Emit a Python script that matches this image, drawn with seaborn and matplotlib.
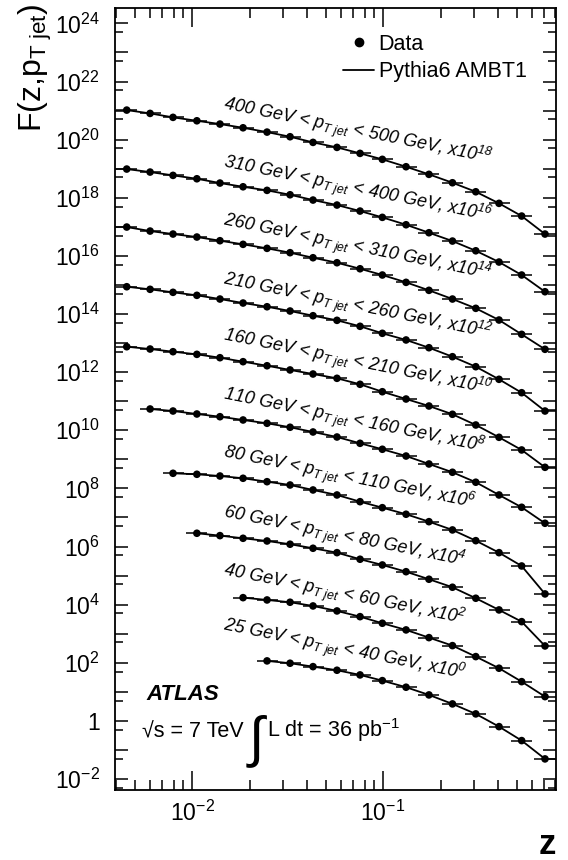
import numpy as np
import pandas as pd
import matplotlib
matplotlib.use("Agg")
import matplotlib.pyplot as plt
import seaborn as sns
from matplotlib.lines import Line2D
from matplotlib.ticker import FixedLocator, FuncFormatter, LogLocator, NullFormatter

# =========================
# data
# =========================
# z bin centres
z_bins = [0.00455, 0.00603, 0.00795, 0.0106, 0.0140, 0.0185, 0.0247, 0.0326,
          0.0430, 0.0574, 0.0758, 0.0992, 0.132, 0.174, 0.231, 0.306, 0.405,
          0.532, 0.705]

pt_lo = [400, 310, 260, 210, 160, 110, 80, 60, 40, 25]
pt_hi = [500, 400, 310, 260, 210, 160, 110, 80, 60, 40]
scale_exp = [18, 16, 14, 12, 10, 8, 6, 4, 2, 0]
first_bin = [0, 0, 0, 0, 0, 1, 2, 3, 5, 6]

F_400 = [1040, 800, 585, 446, 344, 256, 182, 126, 80.5, 54.2, 33.7, 21.0,
         11.7, 6.40, 3.29, 1.61, 0.643, 0.235, 0.0565]
F_310 = [973, 767, 590, 451, 321, 239, 180, 127, 83.5, 56.2, 34.9, 21.2,
         11.8, 6.27, 3.24, 1.50, 0.615, 0.220, 0.0585]
F_260 = [984, 716, 565, 446, 333, 250, 182, 129, 86.5, 58.2, 36.1, 22.0,
         12.3, 6.53, 3.28, 1.57, 0.622, 0.200, 0.0611]
F_210 = [869, 708, 558, 440, 328, 239, 178, 127, 87.5, 60.7, 37.8, 21.7,
         12.8, 6.93, 3.40, 1.54, 0.567, 0.196, 0.046]
F_160 = [750, 625, 505, 410, 314, 229, 166, 119, 86.3, 61.4, 38.2, 21.2,
         11.9, 6.84, 3.55, 1.52, 0.573, 0.210, 0.0532]
F_110 = [540, 460, 363, 293, 226, 174, 127, 87.3, 58.7, 35.6, 22.2, 13.0,
         6.92, 3.59, 1.63, 0.594, 0.224, 0.0631]
F_80 = [331, 306, 267, 223, 170, 131, 88.3, 59.4, 34.9, 21.7, 12.9, 7.16,
        3.72, 1.59, 0.615, 0.214, 0.0234]
F_60 = [286, 237, 192, 155, 120, 87.1, 61.5, 36.5, 23.2, 13.6, 7.48, 3.97,
        1.66, 0.658, 0.260, 0.0379]
F_40 = [174, 145, 121, 90.2, 60.7, 38.6, 22.9, 13.5, 7.33, 3.89, 1.63,
        0.649, 0.224, 0.0684]
F_25 = [116, 96.4, 73.6, 55.3, 38.2, 24.3, 14.4, 7.83, 3.84, 1.74, 0.635,
        0.210, 0.0492]

F_all = [F_400, F_310, F_260, F_210, F_160, F_110, F_80, F_60, F_40, F_25]

# long table for seaborn
rows = []
for i, F in enumerate(F_all):
    for j, val in enumerate(F):
        zz = z_bins[first_bin[i] + j]
        rows.append({"series": pt_lo[i], "z": zz, "F": val * 10.0 ** scale_exp[i]})
df = pd.DataFrame(rows)

# =========================
# style
# =========================
sns.set_style("ticks")
plt.rcParams["font.family"] = ["Liberation Sans", "DejaVu Sans"]
plt.rcParams["mathtext.fontset"] = "custom"
plt.rcParams["mathtext.rm"] = "Liberation Sans"
plt.rcParams["mathtext.it"] = "Liberation Sans:italic"
plt.rcParams["mathtext.bf"] = "Liberation Sans:bold"
plt.rcParams["mathtext.default"] = "regular"
for k in ["text.color", "axes.labelcolor", "xtick.color", "ytick.color",
          "axes.edgecolor"]:
    plt.rcParams[k] = "black"

fig = plt.figure(figsize=(5.68, 8.6), dpi=100)
ax = fig.add_axes([115 / 568, 70 / 860, 441 / 568, 782 / 860])

# =========================
# plot
# =========================
sns.lineplot(data=df, x="z", y="F", units="series", estimator=None,
             color="black", lw=1.3, ax=ax, legend=False, zorder=2)

bin_half = 10 ** 0.055
ax.errorbar(df["z"], df["F"],
            xerr=[df["z"] - df["z"] / bin_half, df["z"] * bin_half - df["z"]],
            fmt="none", ecolor="black", elinewidth=1.1, zorder=2)

sns.scatterplot(data=df, x="z", y="F", color="black", s=30,
                edgecolor="none", ax=ax, legend=False, zorder=3)

ax.set_xscale("log")
ax.set_yscale("log")
ax.set_xlim(0.00395, 0.805)
ax.set_ylim(10 ** -2.378, 10 ** 24.53)
ax.set_xlabel("")
ax.set_ylabel("")

# ticks
ax.yaxis.set_major_locator(FixedLocator([10.0 ** n for n in range(-2, 25)]))
ax.yaxis.set_minor_locator(FixedLocator([5 * 10.0 ** n for n in range(-3, 24)]))


def ylab(v, pos):
    n = int(round(np.log10(v)))
    if n % 2:
        return ""
    if n == 0:
        return "1"
    return r"$10^{%d}$" % n


ax.yaxis.set_major_formatter(FuncFormatter(ylab))
ax.yaxis.set_minor_formatter(NullFormatter())
ax.xaxis.set_major_locator(LogLocator(base=10, numticks=10))
ax.xaxis.set_minor_locator(LogLocator(base=10, subs=np.arange(2, 10), numticks=20))
ax.xaxis.set_minor_formatter(NullFormatter())

ax.tick_params(axis="x", which="major", direction="in", top=True, length=14,
               width=1.1, labelsize=16.5, pad=8)
ax.tick_params(axis="x", which="minor", direction="in", top=True, length=7,
               width=1.1)
ax.tick_params(axis="y", which="major", direction="in", right=True, length=9.5,
               width=1.1, labelsize=16.5, pad=11)
ax.tick_params(axis="y", which="minor", direction="in", right=True, length=5.5,
               width=1.1)
for s in ax.spines.values():
    s.set_linewidth(1.3)

# series labels
label_y = [109, 167, 225, 284, 340, 399, 457, 517, 575, 630]
for i in range(len(pt_lo)):
    txt = (f"{pt_lo[i]} GeV < " + r"$p_{T\ jet}$" + f" < {pt_hi[i]} GeV, x10"
           + r"$^{%d}$" % scale_exp[i])
    ax.text((223 - 115) / 441, (790 - label_y[i]) / 782, txt,
            transform=ax.transAxes, rotation=-11.5, rotation_mode="anchor",
            ha="left", va="baseline", fontsize=13, style="italic")

# legend
handles = [Line2D([], [], color="black", marker="o", ms=6, ls="none"),
           Line2D([], [], color="black", lw=1.3)]
ax.legend(handles, ["Data", "Pythia6 AMBT1"], loc="upper left",
          bbox_to_anchor=(343 / 568, 1 - 34 / 860), bbox_transform=fig.transFigure,
          frameon=False, fontsize=15.5, handlelength=1.45, handletextpad=0.2,
          borderpad=0, borderaxespad=0, labelspacing=0.3)

# ATLAS text
ax.text((146 - 115) / 441, (790 - 700) / 782, "ATLAS", transform=ax.transAxes,
        fontsize=16, weight="bold", style="italic", ha="left", va="baseline")
ax.text((142 - 115) / 441, (790 - 737) / 782, "\u221as = 7 TeV",
        transform=ax.transAxes, fontsize=15.5, ha="left", va="baseline")
ax.text((256 - 115) / 441, (790 - 741) / 782, "\u222b",
        transform=ax.transAxes, fontsize=40, ha="center", va="center")
ax.text((267 - 115) / 441, (790 - 737) / 782, r"L dt = 36 pb$^{-1}$",
        transform=ax.transAxes, fontsize=15.5, ha="left", va="baseline")

# axis titles
fig.text(35 / 568, 1 - 4 / 860, r"F(z,p$_{T\ jet}$)", rotation=90,
         ha="center", va="top", fontsize=23)
fig.text(547 / 568, 1 - 845 / 860, "z", fontsize=25, weight="bold",
         ha="center", va="center")

fig.savefig("out.png", dpi=100)
